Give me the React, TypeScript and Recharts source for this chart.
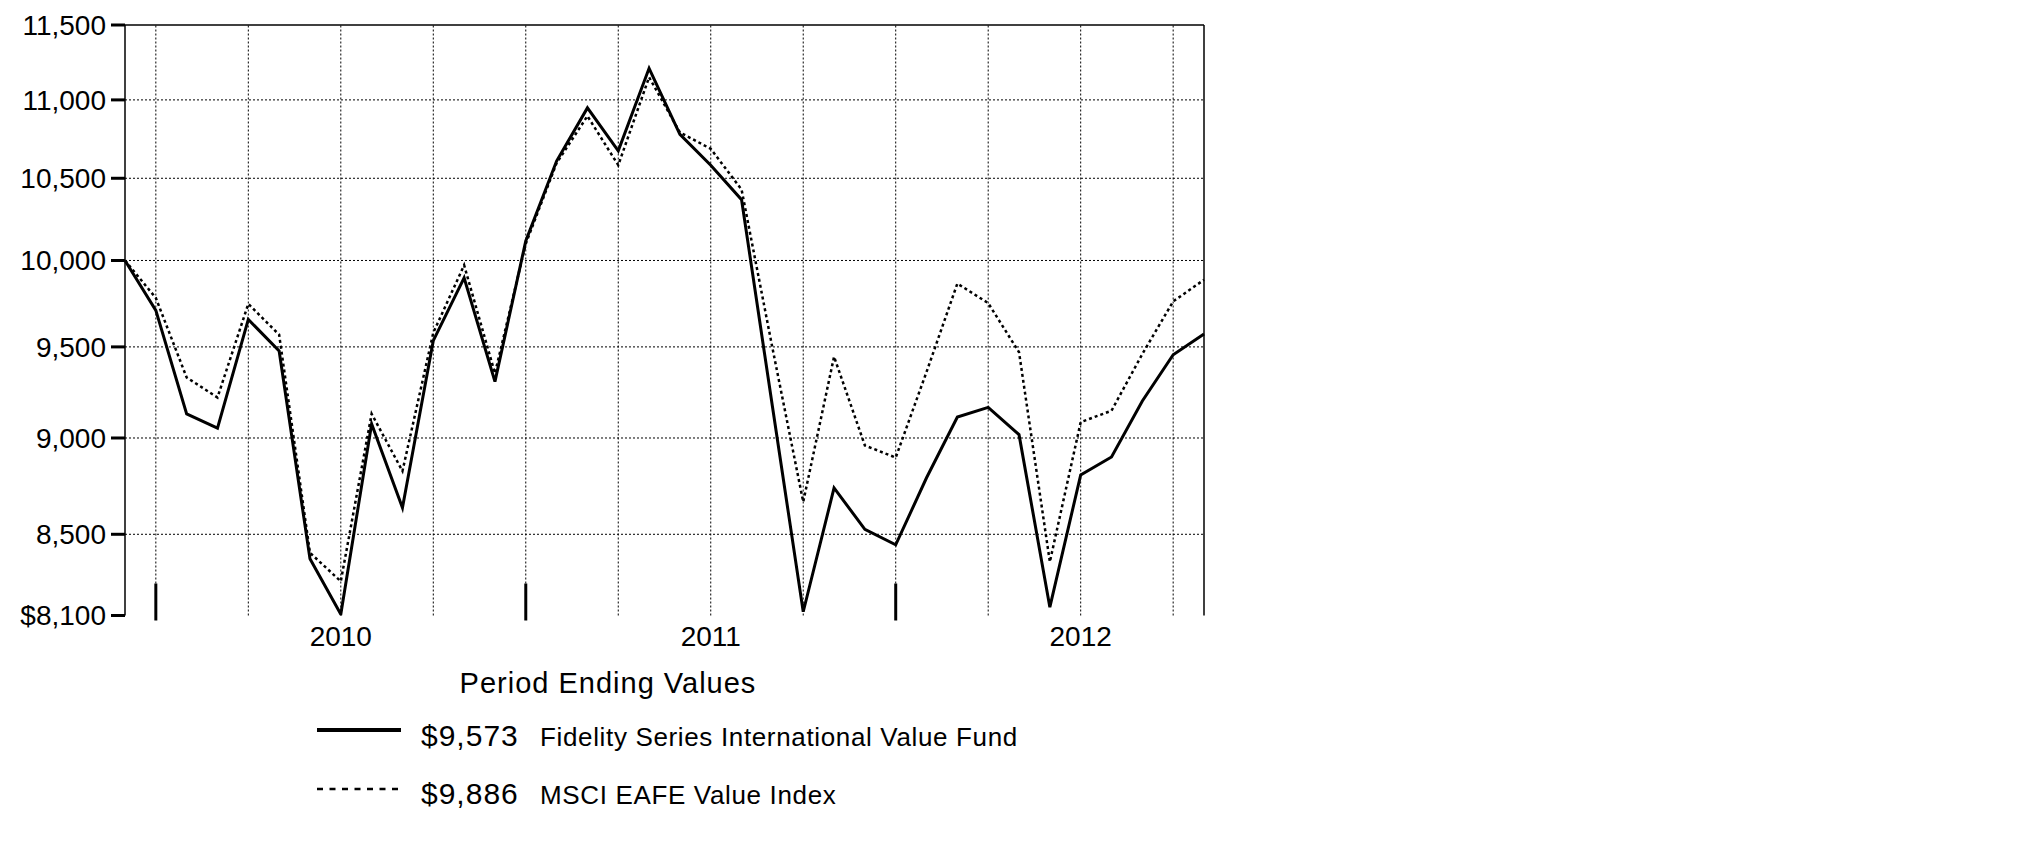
import { LineChart, Line, XAxis, YAxis, ReferenceLine, Legend } from 'recharts';

const FONT = '"Liberation Sans", Arial, sans-serif';

// month ends, starting at the fund's inception
const months = [
  'Dec 3, 2009', 'Dec 2009',
  'Jan 2010', 'Feb 2010', 'Mar 2010', 'Apr 2010', 'May 2010', 'Jun 2010',
  'Jul 2010', 'Aug 2010', 'Sep 2010', 'Oct 2010', 'Nov 2010', 'Dec 2010',
  'Jan 2011', 'Feb 2011', 'Mar 2011', 'Apr 2011', 'May 2011', 'Jun 2011',
  'Jul 2011', 'Aug 2011', 'Sep 2011', 'Oct 2011', 'Nov 2011', 'Dec 2011',
  'Jan 2012', 'Feb 2012', 'Mar 2012', 'Apr 2012', 'May 2012', 'Jun 2012',
  'Jul 2012', 'Aug 2012', 'Sep 2012', 'Oct 2012',
];

// Fidelity Series International Value Fund
const fundValues = [
  10000, 9708, 9130, 9053, 9656, 9477, 8377, 8106, 9075, 8635, 9535, 9898,
  9306, 10117, 10608, 10948, 10672, 11208, 10777, 10582, 10367, 9171, 8118, 8737,
  8525, 8447, 8790, 9113, 9165, 9018, 8140, 8805, 8899, 9200, 9456, 9573,
];

// MSCI EAFE Value Index
const indexValues = [
  10000, 9780, 9329, 9219, 9746, 9569, 8407, 8266, 9130, 8825, 9580, 9972,
  9352, 10100, 10595, 10895, 10582, 11149, 10790, 10685, 10430, 9495, 8665, 9445,
  8960, 8896, 9360, 9864, 9750, 9470, 8362, 9085, 9147, 9460, 9760, 9886,
];

const yTicks = [8100, 8500, 9000, 9500, 10000, 10500, 11000, 11500];
const quarterMonths = ['Mar', 'Jun', 'Sep', 'Dec'];
const yearLabelMonth = 'Jun';
const yearEndMonth = 'Dec';

const legendTitle = 'Period Ending Values';
const legendValues = ['$9,573', '$9,886'];
const legendNames = ['Fidelity Series International Value Fund', 'MSCI EAFE Value Index'];

const data = months.map((month, i) => ({ month, fund: fundValues[i], index: indexValues[i] }));
const quarterEnds = months.filter((m, i) => i > 0 && quarterMonths.includes(m.slice(0, 3)));

function MonthTick(props: any) {
  const { x, y, payload } = props;
  const label: string = payload.value;
  if (label.includes(',')) return <g />;
  const [mon, yr] = label.split(' ');
  if (mon === yearLabelMonth) {
    return (
      <text x={x} y={y + 30} textAnchor="middle" fontSize={28} fontFamily={FONT} fill="#000">
        {yr}
      </text>
    );
  }
  if (mon === yearEndMonth) {
    return <line x1={x} x2={x} y1={y - 32} y2={y + 5} stroke="#000" strokeWidth={3} />;
  }
  return <g />;
}

function LegendBlock() {
  const rows = [
    { line: 80, base: 96, dash: undefined, width: 4 },
    { line: 139, base: 154, dash: '6 6.5', width: 2.5 },
  ];
  return (
    <svg width={1240} height={190} style={{ display: 'block' }}>
      <text x={608} y={43} textAnchor="middle" fontSize={29} letterSpacing={1} fontFamily={FONT} fill="#000">
        {legendTitle}
      </text>
      {rows.map((r, i) => (
        <g key={i}>
          <line x1={317} x2={401} y1={r.line} y2={r.line} stroke="#000" strokeWidth={r.width} strokeDasharray={r.dash} />
          <text x={421} y={r.base} fontSize={30} letterSpacing={1} fontFamily={FONT} fill="#000">
            {legendValues[i]}
          </text>
          <text x={540} y={r.base} fontSize={26} letterSpacing={0.65} fontFamily={FONT} fill="#000">
            {legendNames[i]}
          </text>
        </g>
      ))}
    </svg>
  );
}

export default function App() {
  return (
    <div style={{ position: 'absolute', left: 0, top: 0, width: 2025, height: 851, background: '#fff' }}>
      <LineChart width={2025} height={851} data={data} margin={{ top: 25, right: 821, bottom: 0, left: 0 }}>
        {yTicks.slice(1, -1).map((v) => (
          <ReferenceLine key={v} y={v} stroke="#000" strokeWidth={1} strokeDasharray="2 2" ifOverflow="visible" />
        ))}
        {quarterEnds.map((m) => (
          <ReferenceLine key={m} x={m} stroke="#000" strokeWidth={1} strokeDasharray="2 2" ifOverflow="visible" />
        ))}
        <ReferenceLine y={yTicks[yTicks.length - 1]} stroke="#000" strokeWidth={1.5} ifOverflow="visible" />
        <ReferenceLine x={months[months.length - 1]} stroke="#000" strokeWidth={1.5} ifOverflow="visible" />
        <XAxis
          dataKey="month"
          interval={0}
          height={235.5}
          axisLine={false}
          tickLine={false}
          tickSize={0}
          tickMargin={0}
          tick={<MonthTick />}
        />
        <YAxis
          type="number"
          scale="log"
          domain={[8100, 11500]}
          allowDataOverflow
          ticks={yTicks}
          interval={0}
          width={125}
          tickSize={14}
          tickMargin={5}
          tickLine={{ stroke: '#000', strokeWidth: 3 }}
          axisLine={{ stroke: '#000', strokeWidth: 1.5 }}
          tick={{ fill: '#000', fontSize: 28, fontFamily: FONT }}
          tickFormatter={(v: number) => (v === yTicks[0] ? '$' : '') + v.toLocaleString('en-US')}
        />
        <Line
          dataKey="index"
          type="linear"
          stroke="#000"
          strokeWidth={2.5}
          strokeDasharray="3 3"
          dot={false}
          activeDot={false}
          isAnimationActive={false}
        />
        <Line
          dataKey="fund"
          type="linear"
          stroke="#000"
          strokeWidth={3}
          dot={false}
          activeDot={false}
          isAnimationActive={false}
        />
        <Legend
          verticalAlign="middle"
          align="center"
          wrapperStyle={{ left: 0, top: 650, width: 1240, height: 190 }}
          content={() => <LegendBlock />}
        />
      </LineChart>
    </div>
  );
}
